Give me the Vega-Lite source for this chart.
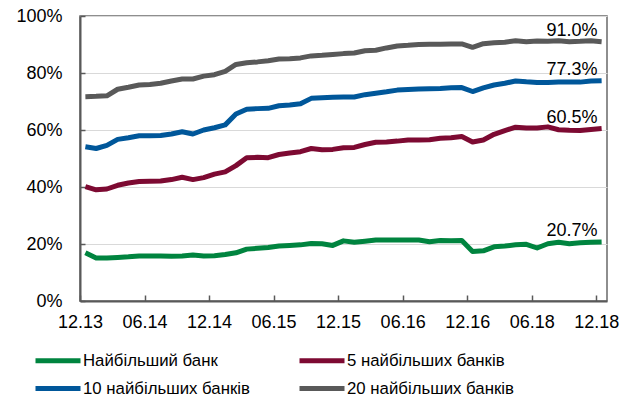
{
  "$schema": "https://vega.github.io/schema/vega-lite/v6.json",
  "autosize": "none",
  "width": 527,
  "height": 285,
  "padding": {"left": 80, "top": 16, "right": 21, "bottom": 100},
  "background": "white",
  "config": {
    "font": "Liberation Sans",
    "view": {"stroke": "#6a6a6a", "strokeWidth": 1.5},
    "axis": {"labelFont": "Liberation Sans", "labelFontSize": 18, "labelColor": "#000000", "domainColor": "#595959", "domainWidth": 2, "tickColor": "#595959", "tickWidth": 1.5, "title": null},
    "legend": {"labelFont": "Liberation Sans", "labelFontSize": 16.8, "labelColor": "#000000", "labelLimit": 400}
  },
  "data": {
    "values": [
      {"i":0,"a":16.9,"b":40.1,"c":54.1,"d":71.7},
      {"i":1,"a":15.1,"b":39.0,"c":53.5,"d":71.8},
      {"i":2,"a":15.1,"b":39.3,"c":54.6,"d":72.0},
      {"i":3,"a":15.3,"b":40.6,"c":56.7,"d":74.3},
      {"i":4,"a":15.5,"b":41.4,"c":57.3,"d":75.0},
      {"i":5,"a":15.8,"b":41.9,"c":58.0,"d":75.8},
      {"i":6,"a":15.8,"b":42.0,"c":58.0,"d":76.0},
      {"i":7,"a":15.8,"b":42.1,"c":58.1,"d":76.4},
      {"i":8,"a":15.7,"b":42.6,"c":58.6,"d":77.2},
      {"i":9,"a":15.8,"b":43.4,"c":59.4,"d":77.9},
      {"i":10,"a":16.1,"b":42.6,"c":58.6,"d":77.9},
      {"i":11,"a":15.8,"b":43.3,"c":60.0,"d":78.9},
      {"i":12,"a":15.9,"b":44.5,"c":60.8,"d":79.4},
      {"i":13,"a":16.3,"b":45.3,"c":61.8,"d":80.6},
      {"i":14,"a":16.9,"b":47.5,"c":65.6,"d":83.0},
      {"i":15,"a":18.2,"b":50.3,"c":67.3,"d":83.6},
      {"i":16,"a":18.5,"b":50.4,"c":67.5,"d":83.9},
      {"i":17,"a":18.8,"b":50.3,"c":67.6,"d":84.3},
      {"i":18,"a":19.3,"b":51.4,"c":68.5,"d":84.9},
      {"i":19,"a":19.5,"b":51.9,"c":68.8,"d":85.0},
      {"i":20,"a":19.7,"b":52.4,"c":69.2,"d":85.3},
      {"i":21,"a":20.2,"b":53.5,"c":71.1,"d":86.0},
      {"i":22,"a":20.1,"b":53.1,"c":71.3,"d":86.2},
      {"i":23,"a":19.5,"b":53.2,"c":71.5,"d":86.5},
      {"i":24,"a":21.1,"b":53.8,"c":71.6,"d":86.8},
      {"i":25,"a":20.6,"b":53.9,"c":71.6,"d":87.0},
      {"i":26,"a":21.0,"b":54.9,"c":72.4,"d":87.8},
      {"i":27,"a":21.4,"b":55.7,"c":72.9,"d":88.0},
      {"i":28,"a":21.4,"b":55.8,"c":73.4,"d":88.8},
      {"i":29,"a":21.4,"b":56.1,"c":74.0,"d":89.5},
      {"i":30,"a":21.4,"b":56.5,"c":74.2,"d":89.7},
      {"i":31,"a":21.4,"b":56.5,"c":74.4,"d":90.0},
      {"i":32,"a":20.8,"b":56.6,"c":74.5,"d":90.1},
      {"i":33,"a":21.2,"b":57.1,"c":74.6,"d":90.1},
      {"i":34,"a":21.1,"b":57.3,"c":74.8,"d":90.2},
      {"i":35,"a":21.2,"b":57.7,"c":74.9,"d":90.2},
      {"i":36,"a":17.4,"b":55.8,"c":73.5,"d":89.0},
      {"i":37,"a":17.6,"b":56.5,"c":74.8,"d":90.3},
      {"i":38,"a":19.0,"b":58.5,"c":75.8,"d":90.6},
      {"i":39,"a":19.3,"b":59.8,"c":76.4,"d":90.8},
      {"i":40,"a":19.7,"b":61.0,"c":77.2,"d":91.3},
      {"i":41,"a":19.9,"b":60.7,"c":76.9,"d":91.0},
      {"i":42,"a":18.6,"b":60.7,"c":76.7,"d":91.2},
      {"i":43,"a":20.1,"b":61.1,"c":76.7,"d":91.1},
      {"i":44,"a":20.6,"b":60.1,"c":76.8,"d":91.3},
      {"i":45,"a":20.1,"b":59.9,"c":76.8,"d":91.0},
      {"i":46,"a":20.4,"b":59.8,"c":76.8,"d":91.1},
      {"i":47,"a":20.6,"b":60.2,"c":77.2,"d":91.3},
      {"i":48,"a":20.7,"b":60.5,"c":77.3,"d":91.0}
    ]
  },
  "transform": [
    {"fold": ["a", "b", "c", "d"], "as": ["key", "value"]},
    {"lookup": "key", "from": {"data": {"values": [
      {"key": "a", "series": "Найбільший банк"},
      {"key": "b", "series": "5 найбільших банків"},
      {"key": "c", "series": "10 найбільших банків"},
      {"key": "d", "series": "20 найбільших банків"}
    ]}, "key": "key", "fields": ["series"]}}
  ],
  "encoding": {
    "x": {
      "field": "i", "type": "quantitative",
      "scale": {"domain": [-0.5, 48.5], "nice": false, "zero": false},
      "axis": {
        "values": [0, 6, 12, 18, 24, 30, 36, 42, 48],
        "labelExpr": "['12.13','06.14','12.14','06.15','12.15','06.16','12.16','06.18','12.18'][datum.value / 6]",
        "grid": false, "tickOffset": -5.4, "tickSize": -6, "labelPadding": 18,
        "labelFlush": false, "labelOverlap": false
      }
    },
    "y": {
      "field": "value", "type": "quantitative",
      "scale": {"domain": [0, 100], "nice": false},
      "axis": {
        "values": [0, 20, 40, 60, 80, 100],
        "labelExpr": "datum.value + '%'",
        "grid": true, "gridColor": "#d9d9d9", "gridWidth": 1.2,
        "tickSize": -5, "labelPadding": 23, "labelFlush": false
      }
    },
    "color": {
      "field": "series", "type": "nominal",
      "scale": {
        "domain": ["Найбільший банк", "5 найбільших банків", "10 найбільших банків", "20 найбільших банків"],
        "range": ["#00843f", "#7d0a32", "#00579a", "#595959"]
      }
    }
  },
  "layer": [
    {
      "mark": {"type": "line", "strokeWidth": 5, "strokeJoin": "round", "strokeCap": "butt"},
      "encoding": {
        "color": {
          "field": "series", "type": "nominal",
          "legend": {
            "orient": "none", "legendX": -33.5, "legendY": 333,
            "direction": "horizontal", "columns": 2, "title": null,
            "symbolType": "M-2.5,0H2.5", "symbolSize": 324, "symbolStrokeWidth": 5,
            "labelOffset": 13.5, "columnPadding": 39, "rowPadding": 6
          }
        }
      }
    },
    {
      "transform": [
        {"filter": "datum.i == 48"},
        {"calculate": "format(datum.value, '.1f') + '%'", "as": "lbl"}
      ],
      "mark": {"type": "text", "align": "right", "baseline": "alphabetic", "dx": -4, "dy": -6, "fontSize": 18, "font": "Liberation Sans", "color": "#000000"},
      "encoding": {
        "text": {"field": "lbl"},
        "color": {"value": "#000000"}
      }
    }
  ]
}
